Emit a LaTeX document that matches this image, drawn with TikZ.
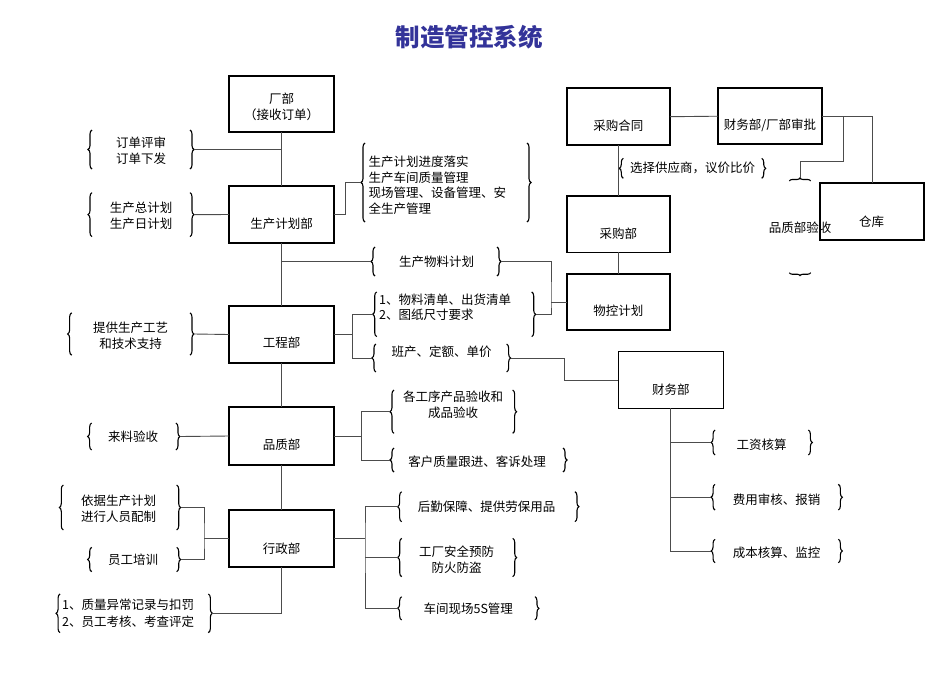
\documentclass[tikz,border=0pt]{standalone}
\usepackage{fontspec}
\setmainfont{Noto Sans CJK SC}
\usetikzlibrary{decorations.pathreplacing,calc}
\definecolor{titleblue}{RGB}{51,51,153}
\newcommand\bracepair[1]{%
  \draw[brc] (#1.south west) -- (#1.north west);
  \draw[brc] (#1.north east) -- (#1.south east);}
\begin{document}
\begin{tikzpicture}[x=1pt,y=-1pt,
  box/.style={draw=black,line width=1.5pt,minimum width=105pt,minimum height=56pt,inner sep=0pt,outer sep=0pt},
  frm/.style={inner sep=0pt,outer sep=0pt,rectangle},
  txt/.style={inner sep=0pt,font=\fontsize{12.5}{16}\selectfont,align=center},
  ltxt/.style={txt,align=left,anchor=west},
  conn/.style={draw=black!70,line width=0.9pt},
  brc/.style={draw=black,line width=1.1pt,decorate,decoration={brace,amplitude=4pt}},
  hbrc/.style={draw=black,line width=1.1pt,decorate,decoration={brace,amplitude=3pt}}]
\useasboundingbox (0,0) rectangle (950,672);
% title
\node[font=\fontsize{24.5}{28}\selectfont\bfseries,text=titleblue,inner sep=0pt] (title) at (469,37) {制造管控系统};
% boxes
\node[box] (B1) at (281.5,104) {};
\node[txt] (B1t) at (281.5,107) {厂部\\（接收订单）};
\node[box,minimum height=57pt] (B2) at (281.5,214.5) {};
\node[txt] (B2t) at (281.5,223.5) {生产计划部};
\node[box,minimum height=57pt] (B3) at (281.5,334.5) {};
\node[txt] (B3t) at (281.5,343) {工程部};
\node[box,minimum height=58pt] (B4) at (281.5,436) {};
\node[txt] (B4t) at (281.5,445) {品质部};
\node[box,minimum height=57pt] (B5) at (281.5,538.5) {};
\node[txt] (B5t) at (281.5,549) {行政部};
\node[box,minimum width=103pt,minimum height=57pt] (B6) at (618.3,116.7) {};
\node[txt] (B6t) at (618.3,125.7) {采购合同};
\node[box,minimum width=104pt,minimum height=56pt] (B7) at (770,116.2) {};
\node[txt] (B7t) at (770,125) {财务部/厂部审批};
\node[box,minimum width=103pt,minimum height=56.5pt] (B8) at (618.3,224) {};
\node[txt] (B8t) at (618.3,234) {采购部};
\node[box,minimum width=103pt,minimum height=56pt] (B9) at (618.3,302) {};
\node[txt] (B9t) at (618.3,311) {物控计划};
\node[box,minimum width=104pt,minimum height=57pt] (B10) at (872,211.7) {};
\node[txt] (B10t) at (871.7,221.7) {仓库};
\node[box,minimum width=105pt,minimum height=56.6pt] (B11) at (670.8,380) {};
\node[txt] (B11t) at (670.8,390) {财务部};
% brace groups (frames)
\node[frm,minimum width=98pt,minimum height=39pt] (g1) at (141,149.5) {};
\node[txt] (g1t) at (141,150.3) {订单评审\\订单下发};
\node[frm,minimum width=98pt,minimum height=44pt] (g2) at (141,214.7) {};
\node[txt] (g2t) at (141,215.5) {生产总计划\\生产日计划};
\node[frm,minimum width=162pt,minimum height=79pt] (g3) at (446,182.5) {};
\node[ltxt,font=\fontsize{12.5}{15.5}\selectfont] (g3t) at (368.5,185) {生产计划进度落实\\生产车间质量管理\\现场管理、设备管理、安\\全生产管理};
\node[frm,minimum width=122pt,minimum height=29pt] (g4) at (436,261.5) {};
\node[txt] (g4t) at (436.5,262) {生产物料计划};
\node[frm,minimum width=155pt,minimum height=44.7pt] (g5) at (454.2,314.3) {};
\node[ltxt,font=\fontsize{12.5}{15}\selectfont] (g5t) at (379,307.5) {1、物料清单、出货清单\\2、图纸尺寸要求};
\node[frm,minimum width=130.7pt,minimum height=28pt] (g6) at (441.3,358) {};
\node[txt] (g6t) at (441.5,352) {班产、定额、单价};
\node[frm,minimum width=118.3pt,minimum height=42.3pt] (g7) at (130.8,334) {};
\node[txt] (g7t) at (130.5,335.3) {提供生产工艺\\和技术支持};
\node[frm,minimum width=84.3pt,minimum height=27pt] (g8) at (133.8,436.5) {};
\node[txt] (g8t) at (133,437) {来料验收};
\node[frm,minimum width=118.7pt,minimum height=43.3pt] (g9) at (453.3,411.7) {};
\node[txt] (g9t) at (453,405) {各工序产品验收和\\成品验收};
\node[frm,minimum width=169pt,minimum height=24pt] (g10) at (478.5,460) {};
\node[txt] (g10t) at (477,461.7) {客户质量跟进、客诉处理};
\node[frm,minimum width=113.4pt,minimum height=45pt] (g11) at (120,507.5) {};
\node[txt] (g11t) at (118.5,509.2) {依据生产计划\\进行人员配制};
\node[frm,minimum width=85pt,minimum height=24.4pt] (g12) at (134.2,559.5) {};
\node[txt] (g12t) at (133,560) {员工培训};
\node[frm,minimum width=148.3pt,minimum height=38.7pt] (g13) at (134.2,613.3) {};
\node[ltxt,font=\fontsize{12.5}{16.5}\selectfont] (g13t) at (62,613.3) {1、质量异常记录与扣罚\\2、员工考核、考查评定};
\node[frm,minimum width=173.3pt,minimum height=30pt] (g14) at (488.3,506.7) {};
\node[txt] (g14t) at (486.7,507) {后勤保障、提供劳保用品};
\node[frm,minimum width=111pt,minimum height=38.4pt] (g15) at (457.2,557.5) {};
\node[txt] (g15t) at (456.7,560) {工厂安全预防\\防火防盗};
\node[frm,minimum width=133.3pt,minimum height=23.3pt] (g16) at (468.3,608.3) {};
\node[txt] (g16t) at (468.3,609) {车间现场5S管理};
\node[frm,minimum width=93.3pt,minimum height=25pt] (g17a) at (761.7,442.5) {};
\node[txt] (g17at) at (761.7,445) {工资核算};
\node[frm,minimum width=123.3pt,minimum height=25.7pt] (g17b) at (776.7,497.2) {};
\node[txt] (g17bt) at (776.7,500) {费用审核、报销};
\node[frm,minimum width=123.3pt,minimum height=23.4pt] (g17c) at (776.7,551) {};
\node[txt] (g17ct) at (776.7,553) {成本核算、监控};
\node[frm,minimum width=138.4pt,minimum height=20pt] (g18) at (692.5,168.3) {};
\node[txt] (g18t) at (692.5,168.3) {选择供应商，议价比价};
\node[txt] (qt) at (800,227.7) {品质部验收};
\coordinate (q-tl) at (789.3,181);
\coordinate (q-tr) at (810.7,181);
\coordinate (q-bl) at (789.3,272.7);
\coordinate (q-br) at (810.7,272.7);
\coordinate (q-tip) at (800,178);
% braces
\foreach \g in {g1,g2,g3,g4,g5,g6,g7,g8,g9,g10,g11,g12,g13,g14,g15,g16,g17a,g17b,g17c,g18}{\bracepair{\g}}
\draw[hbrc] (q-tl) -- (q-tr);
\draw[hbrc] (q-br) -- (q-bl);
% spine
\draw[conn] (B1.south) -- (B2.north);
\draw[conn] (B2.south) -- (B3.north);
\draw[conn] (B3.south) -- (B4.north);
\draw[conn] (B4.south) -- (B5.north);
% left side connectors
\draw[conn] ([xshift=4pt]g1.east) -- (g1.east -| B1.south);
\draw[conn] ([xshift=4pt]g2.east) -- (B2.west);
\draw[conn] ([xshift=4pt]g7.east) -- (B3.west);
\draw[conn] ([xshift=4pt]g8.east) -- (B4.west);
\coordinate (j6) at ([xshift=-25pt]B5.west);
\draw[conn] ([xshift=4pt]g11.east) -| (j6) |- ([xshift=4pt]g12.east);
\draw[conn] (j6) -- (B5.west);
\draw[conn] ([xshift=4pt]g13.east) -| (B5.south);
% right of spine
\draw[conn] (B2.east) -- ++(11,0) |- ([xshift=-4pt]g3.west);
\draw[conn] (B2.south |- g4.west) -- ([xshift=-4pt]g4.west);
\coordinate (j1) at (551,302);
\draw[conn] ([xshift=4pt]g4.east) -| (j1) |- ([xshift=4pt]g5.east);
\draw[conn] (j1) -- (B9.west);
\coordinate (j2) at (352.7,334.5);
\draw[conn] (B3.east) -- (j2);
\draw[conn] ([xshift=-4pt]g5.west) -| (j2) |- ([xshift=-4pt]g6.west);
\draw[conn] ([xshift=4pt]g6.east) -- ++(53.6,0) |- (B11.west);
\coordinate (j4) at (361.7,436);
\draw[conn] (B4.east) -- (j4);
\draw[conn] ([xshift=-4pt]g9.west) -| (j4) |- ([xshift=-4pt]g10.west);
\coordinate (j5) at (365,538.5);
\draw[conn] (B5.east) -- (j5);
\draw[conn] ([xshift=-4pt]g14.west) -| (j5) |- ([xshift=-4pt]g16.west);
\draw[conn] (j5 |- g15.west) -- ([xshift=-4pt]g15.west);
% purchasing side
\draw[conn] (B6.south) -- (B8.north);
\draw[conn] (B8.south) -- (B9.north);
\draw[conn] (B6.east) -- (B7.west);
\draw[conn] (B7.east) -| (B10.north);
\draw[conn] ([xshift=21pt]B7.east) -- ++(0,45.5) -| (q-tip);
% finance branches
\draw[conn] (B11.south) -- (B11.south |- g17c.west) -- ([xshift=-4pt]g17c.west);
\draw[conn] (B11.south |- g17a.west) -- ([xshift=-4pt]g17a.west);
\draw[conn] (B11.south |- g17b.west) -- ([xshift=-4pt]g17b.west);
\end{tikzpicture}
\end{document}
